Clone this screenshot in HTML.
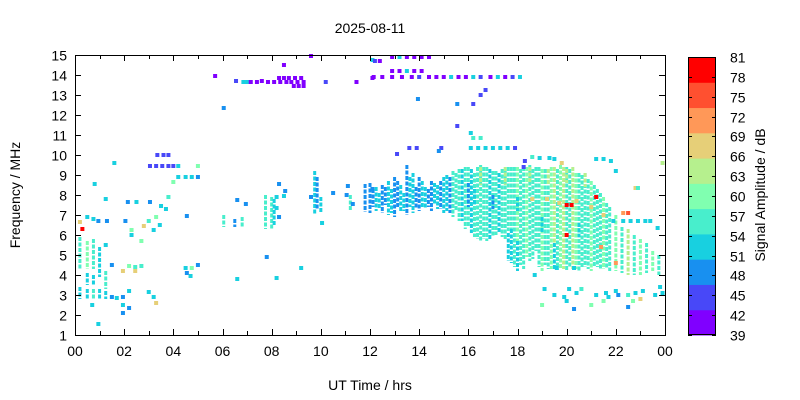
<!DOCTYPE html>
<html><head><meta charset="utf-8">
<style>
html,body{margin:0;padding:0;background:#fff;}
svg{display:block;font-family:"Liberation Sans",sans-serif;}
</style></head>
<body>
<svg id="chart" width="800" height="400" viewBox="0 0 800 400">
<rect x="0" y="0" width="800" height="400" fill="#fff"/>
<g id="marks"></g>
<g id="axes"></g>
<text x="370" y="33" font-size="14" text-anchor="middle">2025-08-11</text>
<text x="370" y="390" font-size="14" text-anchor="middle">UT Time / hrs</text>
<text transform="translate(20,195) rotate(-90)" font-size="14" text-anchor="middle">Frequency / MHz</text>
<text transform="translate(765,195) rotate(-90)" font-size="14" text-anchor="middle">Signal Amplitude / dB</text>
<g id="cbar"></g>
</svg>
<script>
// vertical runs: [time hrs, fLow MHz, fHigh MHz, amplitude dB]
const runs = [
[0.2,4.4,5.8,58],[0.2,2.9,3.3,53],[0.5,4.4,5.6,60],[0.5,3.6,4.0,53],[0.5,2.9,3.2,53],
[0.75,4.4,5.7,58],[0.75,3.6,3.9,52],[0.75,2.9,3.2,55],[1.0,4.4,5.3,54],[1.0,4.0,4.2,52],
[1.0,2.9,3.2,52],[1.25,3.4,4.1,55],[1.25,2.9,3.1,52],
[6.05,6.5,6.9,55],[6.5,6.5,6.7,50],[6.8,6.5,6.8,57],
[7.75,6.4,7.9,55],[8.0,6.4,7.8,57],[8.1,6.6,7.7,52],
[9.75,7.1,9.1,52],[9.85,7.4,8.8,48],[10.0,7.2,7.8,52],
[11.2,7.35,7.9,55],[11.8,7.25,8.45,48],
[12.0,7.2,8.5,48],[12.25,7.3,8.3,52],[12.5,7.2,8.4,48],[12.75,7.1,8.6,52],[13.0,7.0,8.8,48],
[13.25,7.3,8.4,52],[13.5,7.1,9.4,48],[13.75,7.2,9.0,52],[14.0,7.3,8.8,48],[14.25,7.4,8.3,52],
[14.5,7.3,8.6,48],[14.75,7.4,8.4,52],[15.0,7.2,8.8,52],[15.25,7.2,8.8,50],[15.5,7.3,9.0,55],
[15.75,6.8,9.2,52],[16.0,6.5,9.3,58],[16.0,7.5,8.5,50],[16.25,6.0,9.0,55],[16.5,5.8,9.4,57],
[16.75,5.8,9.3,58],[17.0,6.0,9.1,55],[17.25,6.2,9.0,52],[17.5,5.9,9.2,57],[17.75,6.2,9.3,55],
[17.75,4.7,6.2,52],[18.0,5.6,9.3,60],[18.0,4.3,5.6,52],[18.25,4.4,9.3,58],[18.5,4.8,9.4,55],
[18.75,5.3,9.3,58],[19.0,4.3,9.2,60],[19.25,4.4,9.2,55],[19.5,5.5,9.3,62],[19.5,4.4,5.5,52],
[19.75,4.4,9.4,60],[20.0,4.3,9.3,58],[20.25,4.4,9.3,62],[20.5,4.3,9.0,58],[20.75,4.5,9.0,55],
[21.0,4.3,8.6,60],[21.25,4.5,8.2,55],[21.5,4.4,7.8,60],[21.75,4.3,7.3,58],[22.0,4.3,6.9,60],
[22.25,4.2,6.3,57],[22.5,4.1,6.2,62],[22.75,4.1,5.9,57],[23.0,4.1,5.7,60],[23.25,4.2,5.5,55],
[23.5,4.3,5.1,60],[23.75,4.1,4.9,55],
[16.5,8.6,9.3,62],[17.5,8.6,9.3,62],[18.5,8.7,9.3,63],[19.25,8.6,9.2,62],[20.0,8.7,9.2,62],[20.75,8.5,9.0,62],
[16.25,7.6,8.2,52],[17.0,7.4,7.9,50],[18.0,7.3,7.8,52],[19.0,6.2,6.8,52],[20.5,6.0,6.5,52],
[12.125,7.5,8.2,48],[12.375,7.4,8.0,52],[12.625,7.6,8.3,48],[12.875,7.2,8.2,52],[13.125,7.5,8.6,48],
[13.375,7.3,8.0,52],[13.625,7.5,8.8,52],[13.875,7.4,8.3,48],[14.125,7.5,8.6,52],[14.375,7.5,8.2,48],
[14.625,7.6,8.5,52],[14.875,7.4,8.6,48],[15.125,7.3,8.9,52],[15.375,7.0,9.1,55],[15.625,6.8,9.2,57],
[15.875,6.4,9.3,55],[16.125,6.2,9.2,52],[16.375,5.9,9.3,57],[16.625,5.9,9.3,55],[16.875,5.9,9.2,52],
[17.125,6.1,9.1,57],[17.375,6.0,9.2,55],[17.625,4.8,6.0,52],[17.625,6.3,9.3,58],[17.875,4.5,9.3,55],
[18.125,4.6,9.2,57],[18.375,5.0,9.3,60],[18.625,4.9,9.2,55],[18.875,4.5,9.3,58],[19.125,4.6,9.2,57],
[19.375,4.4,9.3,60],[19.625,4.5,9.2,57],[19.875,4.4,9.3,62],[20.125,4.5,9.2,55],[20.375,4.4,9.0,60],
[20.625,4.5,8.9,57],[20.875,4.4,8.7,58],[21.125,4.5,8.4,57],[21.375,4.4,8.0,58],[21.625,4.4,7.5,55]
];
// single points: [time hrs, freq MHz, amplitude dB]
const points = [
[0.2,6.65,66],[0.3,6.3,78],[0.5,6.9,52],[0.75,6.8,52],[0.95,6.7,48],[1.3,6.7,48],[0.8,8.55,52],
[1.25,7.8,52],[1.6,9.6,52],[2.05,6.7,48],[2.3,6.0,52],[2.3,6.25,60],[2.7,5.7,60],[2.8,6.45,66],
[3.0,6.7,57],[3.2,6.25,52],[3.3,6.9,60],[3.45,6.5,52],[2.15,7.65,48],[2.5,7.65,52],[3.05,7.65,48],
[3.5,7.45,52],[3.7,7.3,52],[3.8,7.9,57],[4.0,8.65,60],[4.2,8.9,52],[4.5,8.9,52],[4.75,8.9,52],[5.0,8.9,48],
[3.05,9.45,45],[3.3,9.45,45],[3.55,9.45,45],[3.8,9.45,45],[4.0,9.45,45],[4.2,9.45,52],
[3.35,10.0,45],[3.6,10.0,45],[3.8,10.0,45],[5.0,9.45,60],
[1.5,4.5,48],[2.2,4.45,60],[2.45,4.4,57],[2.7,4.45,57],[1.95,4.2,66],[2.45,4.2,66],[1.5,2.9,48],
[1.7,2.85,52],[1.95,2.9,48],[2.2,3.2,52],[3.0,3.15,52],[3.2,2.9,52],[3.3,2.6,66],[1.95,2.5,52],
[2.2,2.35,48],[1.95,2.1,48],[0.7,2.5,52],[0.95,1.55,52],[1.25,5.5,52],
[4.5,4.35,52],[4.75,4.35,60],[4.55,4.1,48],[4.7,3.95,52],[5.0,4.5,48],
[6.05,12.35,48],[5.7,13.95,42],[6.55,13.7,45],[6.85,13.65,52],[7.0,13.65,52],[7.15,13.65,42],
[7.4,13.65,42],[7.6,13.7,42],[7.85,13.65,42],[8.1,13.65,42],[8.35,13.65,42],[8.6,13.65,42],
[8.8,13.65,42],[9.05,13.65,42],[9.3,13.65,42],[10.2,13.65,45],[11.45,13.65,42],[12.1,13.85,42],
[8.3,13.85,42],[8.5,13.85,42],[8.7,13.85,42],[8.95,13.85,42],[9.2,13.85,42],[8.5,14.5,42],
[8.9,13.45,42],[9.1,13.45,42],[9.3,13.45,42],[9.6,14.95,42],[12.1,14.75,52],
[6.6,7.75,48],[6.95,7.55,48],[4.55,6.95,48],[7.8,4.9,48],[6.6,3.8,52],[8.2,3.85,52],[9.2,4.35,52],
[10.05,6.6,52],[8.3,8.55,48],[8.55,8.2,48],[8.5,7.95,52],[8.2,7.35,52],[8.3,6.9,48],[8.2,7.9,52],
[9.6,7.9,48],[10.5,8.1,48],[11.1,8.45,48],[11.05,8.0,48],[11.3,7.55,48],[12.1,8.3,48],
[12.9,14.9,42],[13.2,14.9,52],[13.5,14.9,42],[13.8,14.9,42],[14.1,14.9,42],[14.4,14.9,42],
[12.2,14.7,45],[12.4,14.7,42],[12.15,13.9,42],[12.5,13.9,42],[12.9,13.9,42],[13.3,13.9,42],
[13.7,13.9,42],[14.0,13.9,45],[14.4,13.9,42],[14.7,13.9,42],[15.0,13.9,42],[15.3,13.9,52],
[15.6,13.9,42],[15.9,13.9,42],[16.2,13.9,52],[16.5,13.9,45],[16.9,13.9,42],[17.2,13.9,52],
[17.5,13.9,42],[17.8,13.9,45],[18.1,13.9,52],
[12.9,14.2,42],[13.2,14.2,42],[13.5,14.2,52],[13.8,14.2,42],[14.1,14.2,42],
[13.95,12.8,48],[15.55,12.55,48],[16.2,12.55,45],[16.5,13.0,45],[16.7,13.25,45],[15.55,11.45,45],
[16.1,11.1,52],[16.2,10.85,57],[16.5,10.85,57],
[13.6,10.35,45],[13.9,10.35,45],[14.9,10.35,45],[16.1,10.35,52],[16.4,10.35,52],[16.7,10.35,52],
[17.0,10.35,52],[17.3,10.35,52],[17.6,10.35,52],[17.9,10.35,45],
[13.1,10.05,45],[14.8,10.2,48],[18.3,9.7,45],[18.25,9.4,45],
[18.6,9.9,57],[18.9,9.85,52],[19.3,9.85,52],[19.5,9.8,52],[21.2,9.8,52],[21.5,9.8,52],
[21.8,9.7,52],[19.8,9.6,66],[22.0,9.2,52],[23.9,9.6,62],
[20.0,7.5,80],[20.2,7.5,80],[21.2,7.9,78],[22.5,7.1,76],[22.3,7.1,70],[20.0,6.0,80],
[19.7,7.6,66],[20.4,7.7,66],[19.2,7.8,66],[18.6,7.8,66],[21.0,7.4,66],[21.5,7.0,66],
[22.8,8.35,66],[22.9,8.35,57],[21.9,6.7,52],[22.3,6.7,52],[22.6,6.7,52],[22.9,6.7,52],
[23.2,6.7,52],[23.4,6.7,52],[23.7,6.35,52],[21.4,5.4,72],[22.0,4.6,72],
[19.1,3.3,52],[19.5,3.0,52],[19.9,2.9,52],[20.1,3.3,52],[20.4,3.1,52],[20.6,3.3,58],[21.2,3.0,52],
[21.6,3.1,52],[21.7,2.9,52],[22.0,3.2,52],[22.1,3.0,48],[22.5,3.0,55],[22.8,3.1,52],[23.1,3.2,52],
[23.6,3.0,52],[23.8,3.4,52],[19.0,2.5,60],[20.3,2.3,48],[20.0,2.7,52],[21.0,2.5,60],[21.5,2.7,60],
[22.7,2.7,60],[22.5,2.4,48],[23.0,2.8,66],[18.7,4.0,52],[19.6,4.35,52],[20.3,4.35,52],[23.9,3.1,52]
];
const xTickLabels = ["00","02","04","06","08","10","12","14","16","18","20","22","00"];
const yTickLabels = [1,2,3,4,5,6,7,8,9,10,11,12,13,14,15];
const cbarTickLabels = [39,42,45,48,51,54,57,60,63,66,69,72,75,78,81];
const bandColors = ["#8000ff","#4848f8","#1890f0","#18d0e0","#48eecc","#80ffb0","#b6f08e","#e6cf78","#ff9858","#ff5030","#ff0000"];

const PL=75, PR=665, PT=55, PB=335;
const xS = t => PL + (PR-PL)*t/24;
const yS = f => PB - (PB-PT)*(f-1)/14;
const AMIN=39, AMAX=81;
function colorOf(a){
  let i = Math.floor((a-AMIN)/(AMAX-AMIN)*bandColors.length);
  i = Math.max(0, Math.min(bandColors.length-1, i));
  return bandColors[i];
}
const NS="http://www.w3.org/2000/svg";
const marks=document.getElementById('marks');
runs.forEach(r=>{
  const el=document.createElementNS(NS,'line');
  const x=xS(r[0]);
  el.setAttribute('x1', x); el.setAttribute('x2', x);
  el.setAttribute('y1', yS(r[2])-2); el.setAttribute('y2', yS(r[1])+2);
  el.setAttribute('stroke', colorOf(r[3]));
  el.setAttribute('stroke-width', 3);
  el.setAttribute('stroke-dasharray', '4 1.5');
  
  
  marks.appendChild(el);
});
points.forEach(p=>{
  const el=document.createElementNS(NS,'rect');
  el.setAttribute('x', xS(p[0])-2); el.setAttribute('y', yS(p[1])-2);
  el.setAttribute('width', 4); el.setAttribute('height', 4);
  el.setAttribute('fill', colorOf(p[2]));
  
  
  marks.appendChild(el);
});
const axes=document.getElementById('axes');
function line(g,x1,y1,x2,y2,name){
  const l=document.createElementNS(NS,'line');
  l.setAttribute('x1',x1);l.setAttribute('y1',y1);l.setAttribute('x2',x2);l.setAttribute('y2',y2);
  l.setAttribute('stroke','#000');l.setAttribute('stroke-width',1);
  
  
  g.appendChild(l);
}
function text(g,x,y,s,anchor,name){
  const t=document.createElementNS(NS,'text');
  t.setAttribute('x',x);t.setAttribute('y',y);t.setAttribute('font-size',14);
  t.setAttribute('text-anchor',anchor);t.textContent=s;
  
  
  g.appendChild(t);
}
const frame=document.createElementNS(NS,'rect');
frame.setAttribute('x',PL+0.5);frame.setAttribute('y',PT+0.5);
frame.setAttribute('width',PR-PL);frame.setAttribute('height',PB-PT);
frame.setAttribute('fill','none');frame.setAttribute('stroke','#000');


axes.appendChild(frame);
for(let h=0;h<=24;h++){
  const x=Math.round(xS(h))+0.5, len=(h%2===0)?6:4;
  line(axes,x,PB,x,PB-len,'x-tick');
  line(axes,x,PT,x,PT+len,'x-tick-top');
}
xTickLabels.forEach((s,i)=>text(axes,xS(i*2),PB+21,s,'middle','x-tick-label'));
yTickLabels.forEach(f=>{
  const y=Math.round(yS(f))+0.5;
  line(axes,PL,y,PL+6,y,'y-tick');
  line(axes,PR,y,PR-6,y,'y-tick-right');
  text(axes,PL-8,y+5,String(f),'end','y-tick-label');
});
const cb=document.getElementById('cbar');
const CL=688, CR=716, CT=57, CB=335;
bandColors.forEach((c,i)=>{
  const h=(CB-CT)/bandColors.length;
  const r=document.createElementNS(NS,'rect');
  r.setAttribute('x',CL);r.setAttribute('y',CB-(i+1)*h);r.setAttribute('width',CR-CL);r.setAttribute('height',h+0.5);
  r.setAttribute('fill',c);
  
  
  cb.appendChild(r);
});
const cbf=document.createElementNS(NS,'rect');
cbf.setAttribute('x',CL+0.5);cbf.setAttribute('y',CT+0.5);cbf.setAttribute('width',CR-CL-1);cbf.setAttribute('height',CB-CT-1);
cbf.setAttribute('fill','none');cbf.setAttribute('stroke','#000');


cb.appendChild(cbf);
cbarTickLabels.forEach(v=>{
  const y=Math.round(CB-(CB-CT)*(v-AMIN)/(AMAX-AMIN))+0.5;
  line(cb,CL,y,CL+4,y,'colorbar-tick');
  line(cb,CR,y,CR-4,y,'colorbar-tick-right');
  text(cb,CR+14,y+5,String(v),'start','colorbar-tick-label');
});
</script>
</body></html>
